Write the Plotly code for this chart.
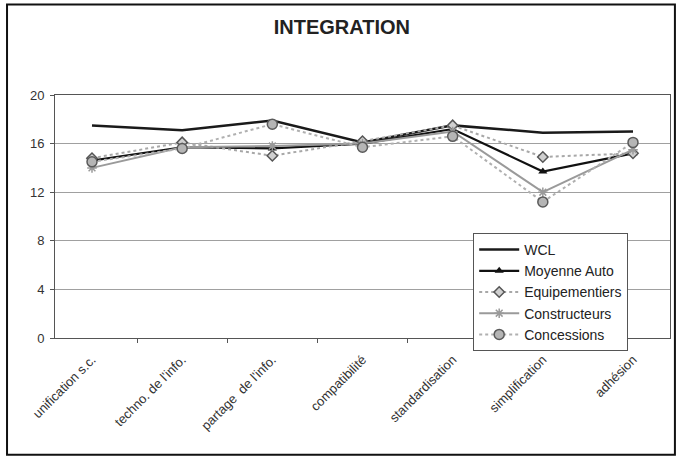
import plotly.graph_objects as go

categories = ["unification s.c.", "techno. de l'info.", "partage  de l'info.", "compatibilité",
              "standardisation", "simplification", "adhésion"]
wcl = [17.5, 17.1, 17.9, 16.1, 17.5, 16.9, 17.0]
moyenne_auto = [14.6, 15.7, 15.6, 16.0, 17.2, 13.7, 15.2]
equipementiers = [14.8, 16.1, 15.0, 16.2, 17.5, 14.9, 15.2]
constructeurs = [14.0, 15.7, 15.8, 16.0, 17.0, 12.0, 15.5]
concessions = [14.5, 15.6, 17.6, 15.7, 16.6, 11.2, 16.1]
y_ticks = [0, 4, 8, 12, 16, 20]

fig = go.Figure()
fig.add_trace(go.Scatter(x=categories, y=wcl, name="WCL", mode="lines",
                         line=dict(color="#1a1a1a", width=2.5)))
fig.add_trace(go.Scatter(x=categories, y=moyenne_auto, name="Moyenne Auto", mode="lines+markers",
                         line=dict(color="#111111", width=2.2),
                         marker=dict(symbol="triangle-up", size=8, color="#111111")))
fig.add_trace(go.Scatter(x=categories, y=equipementiers, name="Equipementiers", mode="lines+markers",
                         line=dict(color="#a8a8a8", width=2, dash="dot"),
                         marker=dict(symbol="diamond", size=8, color="#d0d0d0",
                                     line=dict(color="#555555", width=1.5))))
fig.add_trace(go.Scatter(x=categories, y=constructeurs, name="Constructeurs", mode="lines+markers",
                         line=dict(color="#9a9a9a", width=2),
                         marker=dict(symbol="asterisk-open", size=8,
                                     line=dict(color="#888888", width=1.5))))
fig.add_trace(go.Scatter(x=categories, y=concessions, name="Concessions", mode="lines+markers",
                         line=dict(color="#b0b0b0", width=2, dash="dot"),
                         marker=dict(symbol="circle", size=10, color="#b5b5b5",
                                     line=dict(color="#5a5a5a", width=1.5))))

fig.update_layout(
    width=677, height=457,
    margin=dict(l=55, r=7, t=95, b=119),
    paper_bgcolor="white", plot_bgcolor="white",
    font=dict(family="Liberation Sans, Arial, sans-serif", color="#333333", size=12),
    title=dict(text="<b>INTEGRATION</b>", x=0.505, xanchor="center", y=0.94, yanchor="middle",
               font=dict(size=20, color="#222222")),
    showlegend=True,
    legend=dict(x=0.68, y=0.432, xanchor="left", yanchor="top",
                bgcolor="white", bordercolor="#555555", borderwidth=1,
                font=dict(size=14, color="#222222"), itemwidth=40, tracegroupgap=0),
    xaxis=dict(type="category", tickangle=-45, showgrid=False, showline=True, linecolor="#555555",
               linewidth=1, mirror=True, ticks="outside", tickson="boundaries", ticklen=4,
               tickcolor="#555555", ticklabelstandoff=8,
               tickfont=dict(size=13, color="#333333")),
    yaxis=dict(range=[0, 20], tickvals=y_ticks, showgrid=True, gridcolor="#a0a0a0", gridwidth=1,
               showline=True, linecolor="#555555", linewidth=1, mirror=True,
               ticks="outside", ticklen=4, tickcolor="#555555", zeroline=False,
               ticklabelstandoff=3,
               tickfont=dict(size=13, color="#333333")),
    shapes=[dict(type="rect", xref="paper", yref="paper",
                 x0=-0.078, x1=1.008, y0=-0.48, y1=1.372,
                 line=dict(color="#111111", width=2), fillcolor="rgba(0,0,0,0)", layer="below")],
)

fig.write_html("out.html")
